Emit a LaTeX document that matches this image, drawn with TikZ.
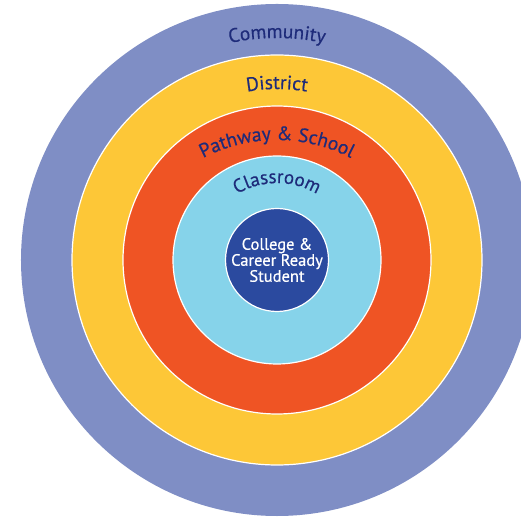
\documentclass[tikz,border=0pt]{standalone}
\usepackage{fontspec}
\setmainfont[FakeBold=0.5]{PT Sans}
\usetikzlibrary{decorations.text}
\definecolor{communityc}{HTML}{7F8EC5}
\definecolor{districtc}{HTML}{FDC737}
\definecolor{pathwayc}{HTML}{EF5424}
\definecolor{classroomc}{HTML}{86D3EA}
\definecolor{studentc}{HTML}{2B4A9F}
\definecolor{labelc}{HTML}{1E2B7A}
\begin{document}
\begin{tikzpicture}[x=1pt,y=1pt,
  ring/.style={circle, inner sep=0pt, draw=white, line width=1.2pt, minimum size=#1},
  arclabel/.style={decorate, decoration={text along path, text align=center, text color=labelc}}]
\useasboundingbox (-277,-258) rectangle (244,260);
\clip (-277,-258) rectangle (244,260);
\node[ring=512pt, draw=none, fill=communityc] (community) at (0,0) {};
\node[ring=410pt, fill=districtc] (district) at (community.center) {};
\node[ring=308pt, fill=pathwayc] (pathway) at (community.center) {};
\node[ring=208pt, fill=classroomc] (classroom) at (community.center) {};
\node[ring=103pt, fill=studentc, align=center, text=white,
      font=\fontsize{16.5pt}{16pt}\selectfont] (student) at (community.center)
      {College \&\\Career Ready\\Student};
\path[arclabel, decoration={text={|\fontsize{19.5pt}{24pt}\selectfont|Community}}]
  (125:222) arc[start angle=125, end angle=55, radius=222];
\path[arclabel, decoration={text={|\fontsize{19.5pt}{24pt}\selectfont|District}}]
  (130:171) arc[start angle=130, end angle=50, radius=171];
\path[arclabel, decoration={text={|\fontsize{19.5pt}{24pt}\selectfont|Pathway {\&} School}}]
  ([shift={(0,-40)}]145:160) arc[start angle=145, end angle=35, radius=160];
\path[arclabel, decoration={text={|\fontsize{19pt}{23pt}\selectfont|Classroom}}]
  (150:77) arc[start angle=150, end angle=30, radius=77];
\end{tikzpicture}
\end{document}
